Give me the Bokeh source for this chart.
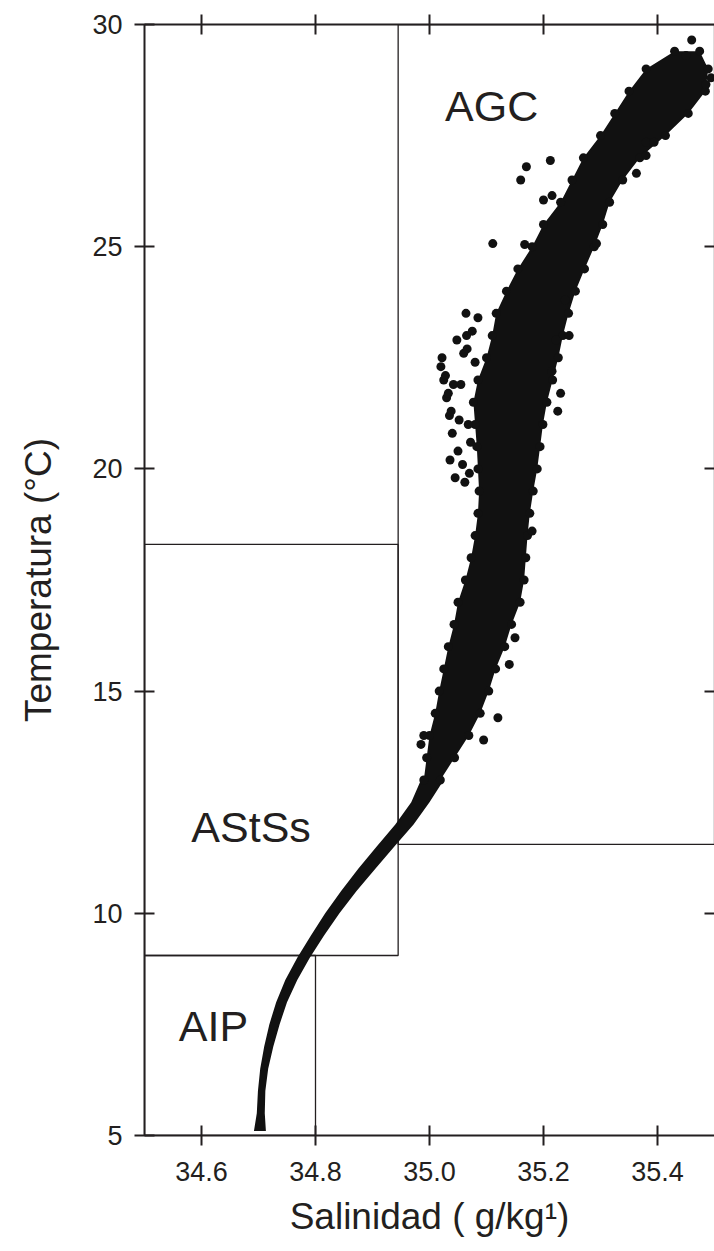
from bokeh.plotting import figure
from bokeh.models import LinearAxis, FixedTicker, Range1d, Label
from bokeh.embed import file_html
from bokeh.resources import INLINE

# ---------------- data ----------------
x_ticks = [34.6, 34.8, 35.0, 35.2, 35.4]
x_tick_labels = ["34.6", "34.8", "35.0", "35.2", "35.4"]
y_ticks = [5, 10, 15, 20, 25, 30]
y_tick_labels = ["5", "10", "15", "20", "25", "30"]
right_ticks = [10, 15, 20, 25]

# water-mass boxes: (S_min, S_max, T_min, T_max)
box_names = ["AGC", "AStSs", "AIP"]
box_s_min = [34.945, 34.5, 34.5]
box_s_max = [35.5, 34.945, 34.8]
box_t_min = [11.55, 9.05, 5.0]
box_t_max = [30.0, 18.3, 9.05]
# label centre (S, T) for each box name
label_s = [35.109, 34.687, 34.621]
label_t = [28.155, 11.95, 7.475]

# deep part of the T-S curve: outer edges of the dense trace
deep_t = [5.1, 5.5, 6.0, 6.5, 7.0, 7.5, 8.0, 8.5, 9.0, 9.5, 10.0, 10.5, 11.0,
          11.5, 12.0, 12.5, 13.0]
deep_s_left = [34.692, 34.697, 34.699, 34.703, 34.710, 34.719, 34.731, 34.747,
               34.768, 34.792, 34.817, 34.845, 34.875, 34.907, 34.940, 34.968,
               34.985]
deep_s_right = [34.713, 34.711, 34.712, 34.717, 34.726, 34.737, 34.750, 34.768,
                34.790, 34.815, 34.842, 34.872, 34.905, 34.938, 34.972, 35.000,
                35.025]

# upper cloud: edge observations (left / right salinity) at each temperature
cloud_t = [13.0, 13.5, 14.0, 14.5, 15.0, 15.5, 16.0, 16.5,
           17.0, 17.5, 18.0, 18.5, 19.0, 19.5, 20.0, 20.5, 21.0, 21.5, 22.0,
           22.5, 23.0, 23.5, 24.0, 24.5, 25.0, 25.5, 26.0, 26.5, 27.0, 27.5,
           28.0, 28.5, 29.0, 29.4]
cloud_s_left = [34.990, 34.995, 35.000, 35.010, 35.017, 35.025, 35.033, 35.043,
                35.050, 35.063, 35.073, 35.080, 35.085, 35.087, 35.085, 35.083,
                35.080, 35.077, 35.085, 35.100, 35.110, 35.117, 35.135, 35.155,
                35.180, 35.200, 35.230, 35.250, 35.270, 35.300, 35.325, 35.350,
                35.380, 35.430]
cloud_s_right = [35.019, 35.044, 35.069, 35.089, 35.104, 35.116, 35.132, 35.144,
                 35.159, 35.166, 35.169, 35.172, 35.176, 35.182, 35.189, 35.194,
                 35.199, 35.206, 35.216, 35.226, 35.234, 35.244, 35.256, 35.272,
                 35.289, 35.304, 35.316, 35.339, 35.369, 35.414, 35.454, 35.484,
                 35.489, 35.474]

# scattered observations outside the dense core
out_s = [35.212, 35.200, 35.215, 35.380, 35.394, 35.380, 35.363, 35.293, 35.167,
         35.494, 35.485, 35.460, 35.450, 35.111, 35.020, 35.025, 35.030, 35.035,
         35.040, 35.050, 35.060, 35.045, 35.055, 35.065, 35.230, 35.245, 34.985,
         34.990, 35.140, 35.170, 35.160, 35.225, 35.215,
         35.022, 35.028, 35.033, 35.038, 35.058, 35.062, 35.048, 35.068, 35.072,
         35.066, 35.075, 35.080, 35.042, 35.070, 35.052, 35.085, 35.036, 35.064,
         35.222, 35.238, 35.180, 35.150, 35.120, 35.095]
out_t = [26.94, 26.05, 26.15, 27.35, 27.35, 27.05, 26.65, 25.07, 25.05,
         28.80, 28.65, 29.65, 29.30, 25.07, 22.30, 22.00, 21.60, 21.20,
         20.80, 20.40, 22.60, 19.80, 21.90, 23.00, 21.70, 23.00, 13.80,
         14.00, 15.60, 26.80, 26.50, 21.30, 22.20,
         22.50, 22.10, 21.70, 21.30, 20.10, 19.70, 22.90, 21.00, 20.60,
         22.70, 23.10, 22.40, 21.90, 19.90, 21.10, 23.40, 20.20, 23.50,
         22.90, 23.80, 18.60, 16.20, 14.40, 13.90]

# ---------------- figure ----------------
INK = "#231f20"
DOT = "#111111"
FONT = "Liberation Sans"

p = figure(width=714, height=1251, x_range=Range1d(34.5, 35.5), y_range=Range1d(5, 30),
           output_backend="svg", toolbar_location=None,
           x_axis_location=None, y_axis_location=None,
           min_border_left=144, min_border_right=0, min_border_top=24, min_border_bottom=116)
p.outline_line_color = None
p.grid.visible = False
p.background_fill_color = "white"


def style_axis(ax, tin, tout):
    ax.axis_line_color = INK
    ax.axis_line_width = 2
    ax.major_tick_line_color = INK
    ax.major_tick_line_width = 2
    ax.major_tick_in = tin
    ax.major_tick_out = tout
    ax.minor_tick_line_color = None
    ax.major_label_text_font = FONT
    ax.major_label_text_color = INK
    ax.major_label_text_font_size = "27px"
    ax.axis_label_text_font = FONT
    ax.axis_label_text_color = INK
    ax.axis_label_text_font_size = "37px"
    ax.axis_label_text_font_style = "normal"


xb = LinearAxis(ticker=FixedTicker(ticks=x_ticks),
                major_label_overrides=dict(zip(x_ticks, x_tick_labels)),
                axis_label="Salinidad ( g/kg\u00b9)")
style_axis(xb, 10, 10)
xb.major_label_standoff = 16
xb.axis_label_standoff = 12
p.add_layout(xb, "below")

yl = LinearAxis(ticker=FixedTicker(ticks=y_ticks),
                major_label_overrides=dict(zip(y_ticks, y_tick_labels)),
                axis_label="Temperatura (\u00b0C)")
style_axis(yl, 10, 10)
yl.major_label_standoff = 12
yl.axis_label_standoff = 30
p.add_layout(yl, "left")

# top and right axes: ticks only, their labels are not painted
xt = LinearAxis(ticker=FixedTicker(ticks=x_ticks))
style_axis(xt, 10, 10)
xt.major_label_text_color = None
xt.major_label_text_font_size = "1px"
xt.major_label_standoff = 0
p.add_layout(xt, "above")

yr = LinearAxis(ticker=FixedTicker(ticks=right_ticks))
style_axis(yr, 10, 0)
yr.axis_line_color = None
yr.major_label_text_color = None
yr.major_label_text_font_size = "1px"
yr.major_label_standoff = 0
p.add_layout(yr, "right")

# boxes
p.quad(left=box_s_min, right=box_s_max, bottom=box_t_min, top=box_t_max,
       fill_color=None, line_color=INK, line_width=1.3)

# deep trace, dense cloud core, edge points and outliers
p.harea(x1=deep_s_left, x2=deep_s_right, y=deep_t, fill_color=DOT)
p.harea(x1=cloud_s_left, x2=cloud_s_right, y=cloud_t, fill_color=DOT)
p.scatter(x=cloud_s_left, y=cloud_t, size=9, fill_color=DOT, line_color=None)
p.scatter(x=cloud_s_right, y=cloud_t, size=9, fill_color=DOT, line_color=None)
p.scatter(x=out_s, y=out_t, size=9, fill_color=DOT, line_color=None)

for name, s, t in zip(box_names, label_s, label_t):
    p.add_layout(Label(x=s, y=t, text=name, text_align="center", text_baseline="middle",
                       text_font=FONT, text_font_size="43px", text_color=INK))

open("out.html", "w").write(file_html(p, INLINE))
